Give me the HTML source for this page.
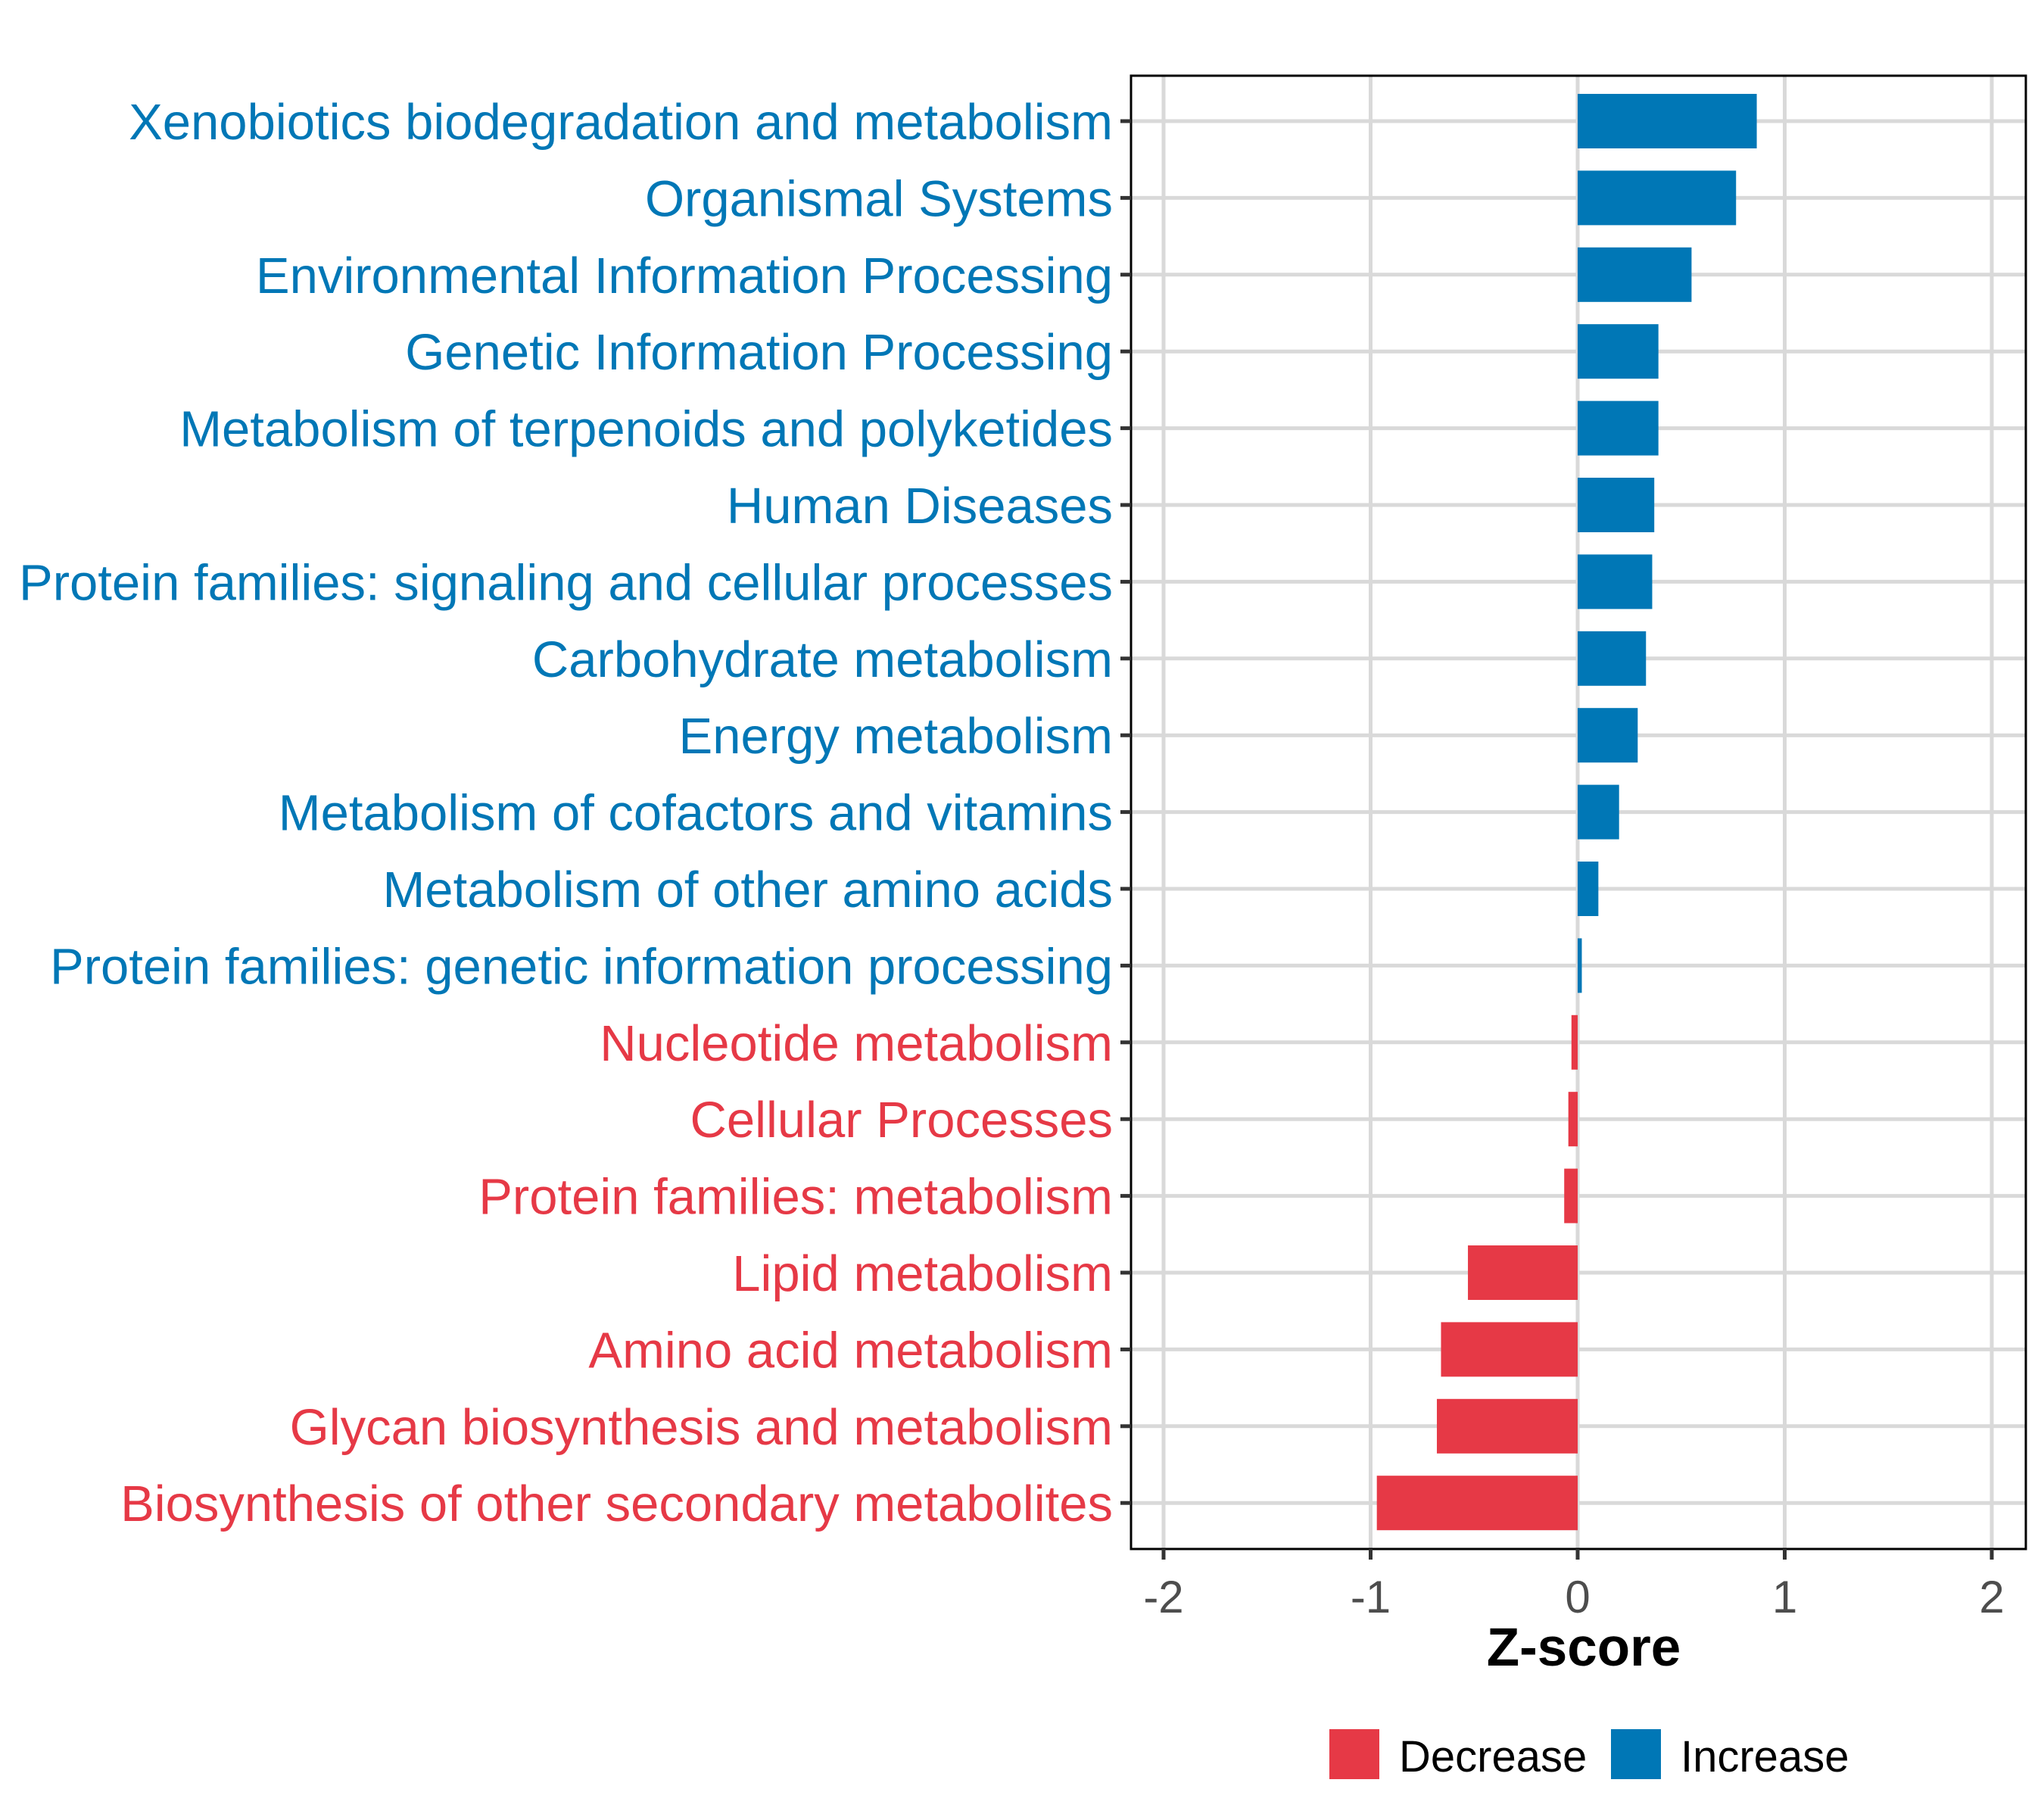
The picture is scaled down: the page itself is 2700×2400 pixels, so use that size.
<!DOCTYPE html>
<html><head><meta charset="utf-8"><style>html,body{margin:0;padding:0;background:#fff}svg{display:block}text{font-family:"Liberation Sans",Arial,sans-serif}</style></head>
<body>
<svg id="chart" width="2700" height="2400" viewBox="0 0 2700 2400" xmlns="http://www.w3.org/2000/svg">
<rect x="0" y="0" width="2700" height="2400" fill="#fff"/>
<g id="grid"></g>
<g id="bars"></g>
<rect x="1494" y="100" width="1182" height="1946" fill="none" stroke="#000" stroke-width="3"/>
<g id="yaxis"></g>
<g id="xaxis"></g>
<text x="2092" y="2200" text-anchor="middle" font-size="71" font-weight="bold" fill="#000">Z-score</text>
<g>
<rect x="1756" y="2284" width="66" height="66" fill="#E63946"/>
<text x="1848" y="2340" font-size="58" fill="#000">Decrease</text>
<rect x="2128" y="2284" width="66" height="66" fill="#0077B6"/>
<text x="2220" y="2340" font-size="58" fill="#000">Increase</text>
</g>
</svg>
<script>
const categories = ["Xenobiotics biodegradation and metabolism","Organismal Systems","Environmental Information Processing","Genetic Information Processing","Metabolism of terpenoids and polyketides","Human Diseases","Protein families: signaling and cellular processes","Carbohydrate metabolism","Energy metabolism","Metabolism of cofactors and vitamins","Metabolism of other amino acids","Protein families: genetic information processing","Nucleotide metabolism","Cellular Processes","Protein families: metabolism","Lipid metabolism","Amino acid metabolism","Glycan biosynthesis and metabolism","Biosynthesis of other secondary metabolites"];
const zscores = [0.865,0.765,0.55,0.39,0.39,0.37,0.36,0.33,0.29,0.2,0.1,0.02,-0.03,-0.045,-0.065,-0.53,-0.66,-0.68,-0.97];
const xTicks = [-2,-1,0,1,2];
const xTickLabels = ["-2","-1","0","1","2"];

const NS = "http://www.w3.org/2000/svg";
const X0 = 2084, UNIT = 273.5, Y0 = 160, STEP = 101.4, PL = 1494, PR = 2676, PT = 100, PB = 2046;
function xs(v){ return X0 + v*UNIT; }
function ys(i){ return Y0 + i*STEP; }
function mk(tag, attrs, parent){ const e=document.createElementNS(NS,tag); for(const k in attrs) e.setAttribute(k, attrs[k]); parent.appendChild(e); return e; }
const grid=document.getElementById('grid'), bars=document.getElementById('bars'), yax=document.getElementById('yaxis'), xax=document.getElementById('xaxis');

xTicks.forEach((t,i)=>{
  const g = mk('line',{x1:xs(t),x2:xs(t),y1:PT,y2:PB,stroke:'#d9d9d9','stroke-width':5},grid);
  
  
  const tk = mk('line',{x1:xs(t),x2:xs(t),y1:PB,y2:PB+14,stroke:'#333','stroke-width':5},xax);
  
  
  const lb = mk('text',{x:xs(t),y:2130,'text-anchor':'middle','font-size':60,fill:'#4d4d4d'},xax);
  lb.textContent = xTickLabels[i];
  
  
});
categories.forEach((c,i)=>{
  const y=ys(i), v=zscores[i];
  const col = v>=0 ? '#0077B6' : '#E63946';
  const g = mk('line',{x1:PL,x2:PR,y1:y,y2:y,stroke:'#d9d9d9','stroke-width':5},grid);
  
  
  const b = mk('rect',{x:Math.min(xs(0),xs(v)),y:y-36,width:Math.abs(xs(v)-xs(0)),height:72,fill:col},bars);
  
  
  const tk = mk('line',{x1:PL-14,x2:PL,y1:y,y2:y,stroke:'#333','stroke-width':5},yax);
  
  
  const lb = mk('text',{x:1470,y:y+24,'text-anchor':'end','font-size':67,fill:col},yax);
  lb.textContent = c;
  
  
});
</script>
</body></html>
